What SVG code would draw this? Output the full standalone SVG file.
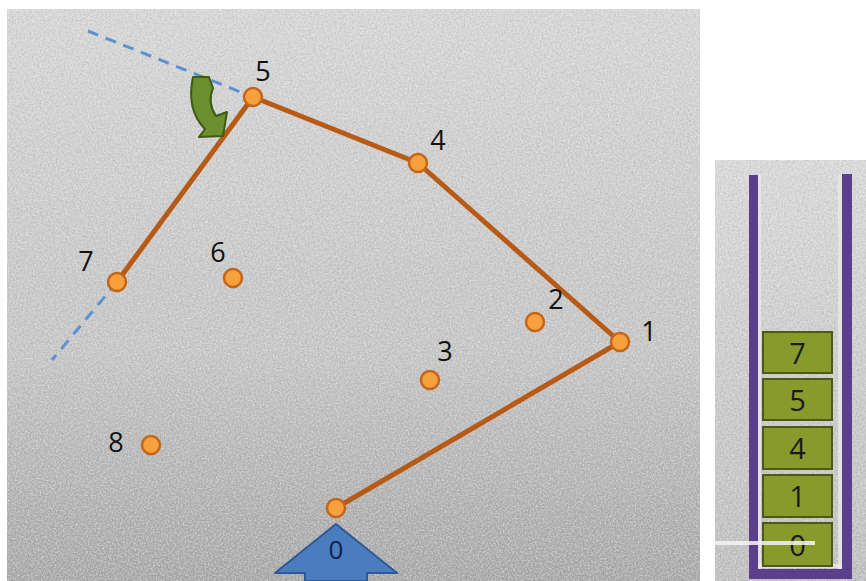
<svg xmlns="http://www.w3.org/2000/svg" width="866" height="581" viewBox="0 0 866 581">
<defs>
<linearGradient id="bgL" x1="0" y1="0" x2="0" y2="1">
<stop offset="0" stop-color="#d6d6d6"/>
<stop offset="0.6" stop-color="#c4c4c4"/>
<stop offset="1" stop-color="#a4a4a4"/>
</linearGradient>
<linearGradient id="bgR" x1="0" y1="0" x2="0" y2="1">
<stop offset="0" stop-color="#d9d9d9"/>
<stop offset="1" stop-color="#bdbdbd"/>
</linearGradient>
<filter id="tex" x="0" y="0" width="100%" height="100%">
<feTurbulence type="fractalNoise" baseFrequency="0.6" numOctaves="2" seed="3" result="n"/>
<feColorMatrix in="n" type="matrix" values="0 0 0 0 1  0 0 0 0 1  0 0 0 0 1  0 0 0 0.9 -0.35" result="w"/>
<feComposite in="w" in2="SourceGraphic" operator="in" result="wc"/>
<feTurbulence type="fractalNoise" baseFrequency="0.5" numOctaves="2" seed="9" result="n2"/>
<feColorMatrix in="n2" type="matrix" values="0 0 0 0 0.3  0 0 0 0 0.3  0 0 0 0 0.3  0 0 0 0.8 -0.35" result="d"/>
<feComposite in="d" in2="SourceGraphic" operator="in" result="dc"/>
<feMerge><feMergeNode in="SourceGraphic"/><feMergeNode in="wc"/><feMergeNode in="dc"/></feMerge>
</filter>
</defs>
<style>
.lbl{font-family:"Open Sans","Liberation Sans",sans-serif;font-size:27px;fill:#111;text-anchor:middle}
.pt{fill:#f7a03e;stroke:#c4661a;stroke-width:2.5}
.edge{fill:none;stroke:#b75a16;stroke-width:5;stroke-linecap:round;stroke-linejoin:round}
.dash{fill:none;stroke:#5b93d0;stroke-width:3;stroke-dasharray:11 8}
.box{fill:#889a2c;stroke:#4c5a14;stroke-width:2}
.btxt{font-family:"Open Sans","Liberation Sans",sans-serif;font-size:29px;fill:#1a1a1a;text-anchor:middle}
.wall{fill:#5a3f8c}
</style>

<!-- backgrounds -->
<rect x="7" y="9" width="693" height="572" fill="url(#bgL)" filter="url(#tex)"/>
<rect x="715" y="160" width="151" height="421" fill="url(#bgR)" filter="url(#tex)"/>

<!-- connectors -->
<g id="connectors">
<path class="dash" d="M88 31 L253 97"/>
<path class="dash" d="M117 282 L52 360"/>
<path class="edge" d="M336 508 L620 342 L418 163 L253 97 L117 282"/>
</g>

<!-- rotation arrow -->
<g id="rotate-arrow">
<path d="M193 77 L209 77 L213 88 Q207 103 216 116 L227 112 L223 136 L199 137 L205 129 Q186 110 193 77 Z" fill="#6b8e2e" stroke="#3d5a16" stroke-width="2" stroke-linejoin="round"/>
</g>

<!-- points -->
<g id="p0"><circle class="pt" cx="336" cy="508" r="9"/></g>
<g id="p1"><circle class="pt" cx="620" cy="342" r="9"/><text class="lbl" x="649" y="341">1</text></g>
<g id="p2"><circle class="pt" cx="535" cy="322" r="9"/><text class="lbl" x="556" y="309">2</text></g>
<g id="p3"><circle class="pt" cx="430" cy="380" r="9"/><text class="lbl" x="445" y="361">3</text></g>
<g id="p4"><circle class="pt" cx="418" cy="163" r="9"/><text class="lbl" x="438" y="150">4</text></g>
<g id="p5"><circle class="pt" cx="253" cy="97" r="9"/><text class="lbl" x="263" y="81">5</text></g>
<g id="p6"><circle class="pt" cx="233" cy="278" r="9"/><text class="lbl" x="218" y="262">6</text></g>
<g id="p7"><circle class="pt" cx="117" cy="282" r="9"/><text class="lbl" x="86" y="271">7</text></g>
<g id="p8"><circle class="pt" cx="151" cy="445" r="9"/><text class="lbl" x="116" y="452">8</text></g>

<!-- start arrow -->
<g id="start-arrow">
<path d="M336 524 L397 573 L367 573 L367 581 L305 581 L305 573 L275 573 Z" fill="#4a7cbf" stroke="#2d5a92" stroke-width="2" stroke-linejoin="round"/>
<text x="336" y="559" font-family="Open Sans, Liberation Sans, sans-serif" font-size="26" fill="#14204a" text-anchor="middle">0</text>
</g>

<!-- stack -->
<g id="stack">
<rect x="757" y="175" width="4" height="394" fill="#e8e8e8" opacity="0.8"/>
<rect x="838" y="175" width="4" height="394" fill="#e8e8e8" opacity="0.8"/>
<rect x="757" y="564" width="85" height="4" fill="#e8e8e8" opacity="0.8"/>
<rect class="wall" x="749" y="175" width="9" height="404"/>
<rect class="wall" x="842" y="174" width="10" height="405"/>
<rect class="wall" x="749" y="569" width="103" height="10"/>
<g id="s7"><rect class="box" x="763" y="332" width="69" height="41"/><text class="btxt" x="797.5" y="364">7</text></g>
<g id="s5"><rect class="box" x="763" y="379" width="69" height="41"/><text class="btxt" x="797.5" y="411">5</text></g>
<g id="s4"><rect class="box" x="763" y="427" width="69" height="42"/><text class="btxt" x="797.5" y="459">4</text></g>
<g id="s1"><rect class="box" x="763" y="475" width="69" height="42"/><text class="btxt" x="797.5" y="507">1</text></g>
<g id="s0"><rect class="box" x="763" y="523" width="69" height="43"/><text class="btxt" x="797.5" y="556">0</text></g>
<rect x="715" y="541" width="100" height="4" fill="#f4f4f4" opacity="0.85"/>
</g>
</svg>
